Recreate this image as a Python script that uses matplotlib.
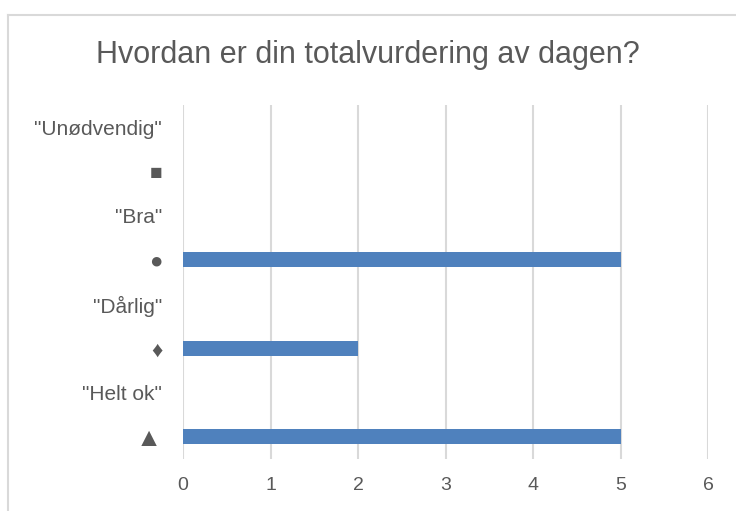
import matplotlib.pyplot as plt
from matplotlib.lines import Line2D

plt.rcParams['font.family'] = ['Liberation Sans', 'DejaVu Sans']

# categories bottom -> top
categories = ['\u25B2', '"Helt ok"', '\u2666', '"Dårlig"', '\u25CF', '"Bra"', '\u25A0', '"Unødvendig"']
values = [5, 0, 2, 0, 5, 0, 0, 0]
xticks = [0, 1, 2, 3, 4, 5, 6]

text_col = '#595959'
bar_col = '#4F81BD'
grid_col = '#D9D9D9'

fig = plt.figure(figsize=(7.36, 5.11), dpi=100)
ax = fig.add_axes([183/736, 52/511, 525/736, 354/511])

ax.barh(range(len(categories)), values, height=0.34, color=bar_col, zorder=3)

ax.set_xlim(0, 6)
ax.set_ylim(-0.5, len(categories) - 0.5)
ax.set_xticks(xticks)
ax.set_yticks(range(len(categories)))
ax.set_yticklabels(categories)
ax.grid(axis='x', color=grid_col, linewidth=1.5, zorder=0)
for s in ax.spines.values():
    s.set_visible(False)
ax.tick_params(axis='x', length=0, pad=13, labelsize=14, colors=text_col)
ax.tick_params(axis='y', length=0, pad=15, labelsize=15, colors=text_col)

# the symbol labels are drawn a bit larger
sym_sizes = {'\u25B2': 19, '\u2666': 16, '\u25CF': 16, '\u25A0': 15}
for lab in ax.get_yticklabels():
    if lab.get_text() in sym_sizes:
        lab.set_fontsize(sym_sizes[lab.get_text()])

fig.text(368/736, 1 - 55/511, 'Hvordan er din totalvurdering av dagen?',
         ha='center', va='center', fontsize=22, color=text_col)

# outer chart border (runs off the right and bottom edges)
bx, by = 8/736, 1 - 15/511
fig.add_artist(Line2D([bx, bx], [0, by], color=grid_col, linewidth=1.5))
fig.add_artist(Line2D([bx, 1], [by, by], color=grid_col, linewidth=1.5))

fig.savefig('out.png', dpi=100)
